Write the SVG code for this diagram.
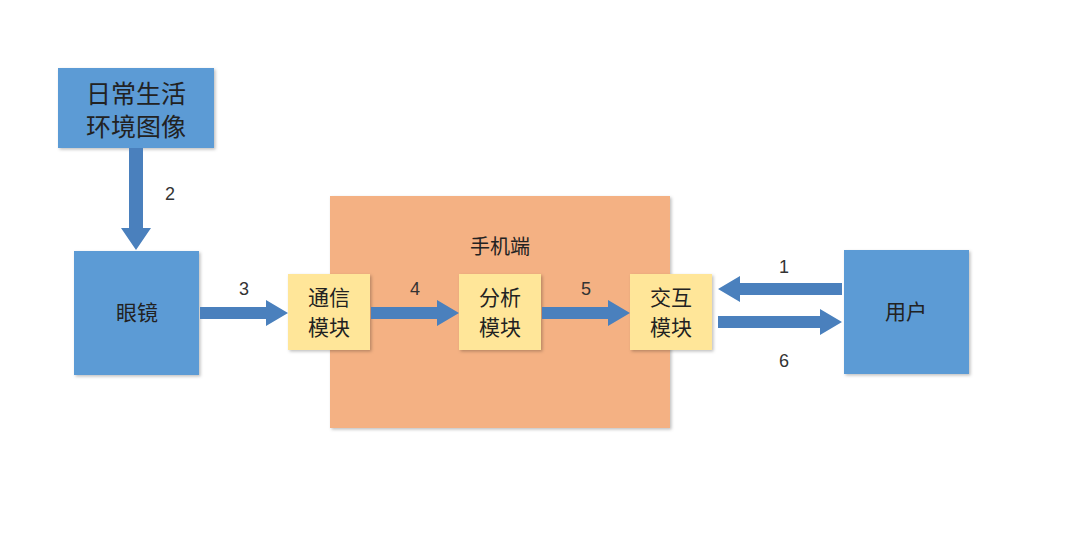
<svg xmlns="http://www.w3.org/2000/svg" width="1080" height="533" viewBox="0 0 1080 533">
<defs>
<style>
.blue{fill:#5b9bd5;}
.yel{fill:#ffe699;}
.t{font-family:"Noto Sans CJK SC","Noto Sans",sans-serif;fill:#222;text-anchor:middle;}
.n{font-family:"Liberation Sans","Noto Sans",sans-serif;fill:#333;font-size:18px;text-anchor:middle;}
.arr{fill:#4a80bd;}
</style>
<filter id="sh" x="-10%" y="-10%" width="125%" height="125%"><feDropShadow dx="1.5" dy="1.5" stdDeviation="1.5" flood-color="#000" flood-opacity="0.25"/></filter>
</defs>
<rect width="1080" height="533" fill="#fff"/>
<g id="phone">
<rect x="330" y="196" width="340" height="232" fill="#f4b183" filter="url(#sh)"/>
<text class="t" x="500" y="254" font-size="20">手机端</text>
</g>
<g id="env">
<rect class="blue" x="58" y="68" width="156" height="80" filter="url(#sh)"/>
<text class="t" x="136" y="103" font-size="25">日常生活</text>
<text class="t" x="136" y="136" font-size="25">环境图像</text>
</g>
<g id="glasses">
<rect class="blue" x="74" y="251" width="125" height="124" filter="url(#sh)"/>
<text class="t" x="137" y="320" font-size="21">眼镜</text>
</g>
<g id="user">
<rect class="blue" x="844" y="250" width="125" height="124" filter="url(#sh)"/>
<text class="t" x="906" y="319" font-size="21">用户</text>
</g>
<g id="comm">
<rect class="yel" x="288" y="274" width="82" height="76" filter="url(#sh)"/>
<text class="t" x="329" y="305" font-size="21">通信</text>
<text class="t" x="329" y="335" font-size="21">模块</text>
</g>
<g id="analysis">
<rect class="yel" x="459" y="274" width="82" height="76" filter="url(#sh)"/>
<text class="t" x="500" y="305" font-size="21">分析</text>
<text class="t" x="500" y="335" font-size="21">模块</text>
</g>
<g id="interact">
<rect class="yel" x="630" y="274" width="82" height="76" filter="url(#sh)"/>
<text class="t" x="671" y="305" font-size="21">交互</text>
<text class="t" x="671" y="335" font-size="21">模块</text>
</g>
<g id="connectors">
<polygon class="arr" points="129,148 143,148 143,228 151,228 136,250 121,228 129,228"/>
<polygon class="arr" points="200,307 266,307 266,300 288,313 266,326 266,319 200,319"/>
<polygon class="arr" points="371,307 437,307 437,300 459,313 437,326 437,319 371,319"/>
<polygon class="arr" points="542,307 608,307 608,300 630,313 608,326 608,319 542,319"/>
<polygon class="arr" points="842,283 740,283 740,276 718,289 740,302 740,295 842,295"/>
<polygon class="arr" points="718,316 820,316 820,309 842,322 820,335 820,328 718,328"/>
<text class="n" x="170" y="200">2</text>
<text class="n" x="244" y="295">3</text>
<text class="n" x="415" y="295">4</text>
<text class="n" x="586" y="295">5</text>
<text class="n" x="784" y="273">1</text>
<text class="n" x="784" y="367">6</text>
</g>
</svg>
